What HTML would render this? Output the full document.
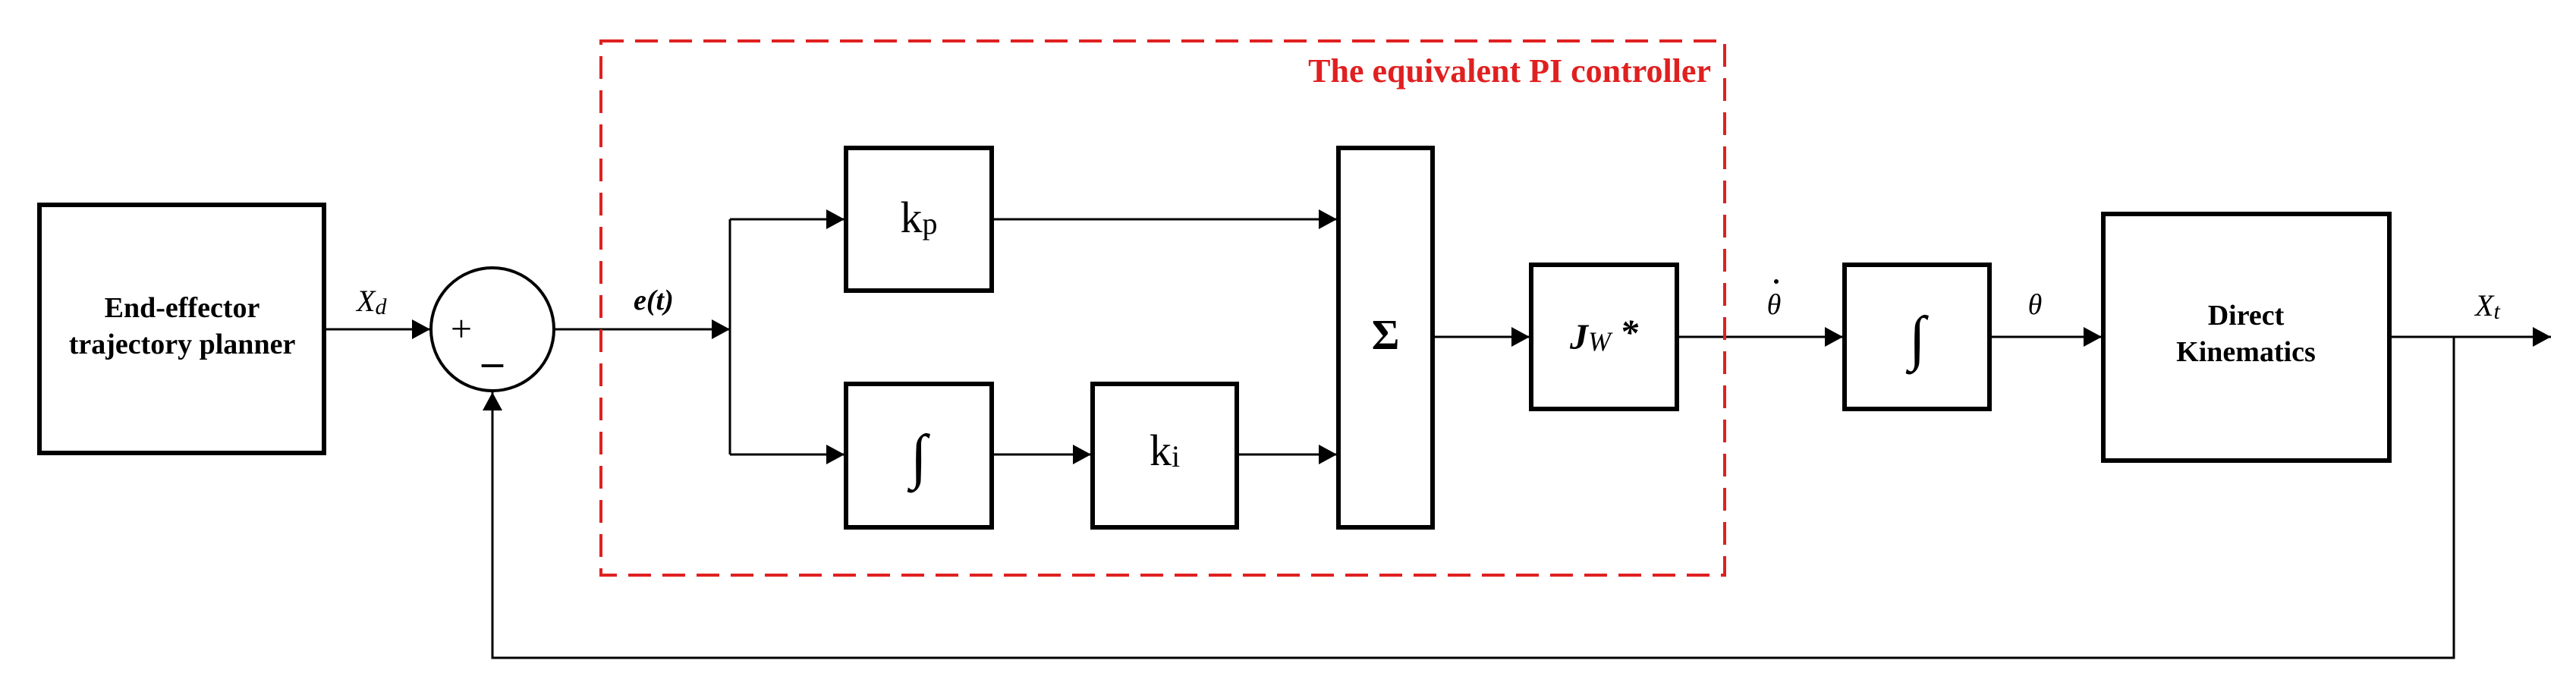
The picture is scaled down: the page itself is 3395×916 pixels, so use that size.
<!DOCTYPE html>
<html><head><meta charset="utf-8"><style>
html,body{margin:0;padding:0;background:#fff;}
svg{display:block;}
text{font-family:"Liberation Serif",serif;}
</style></head><body>
<svg width="3395" height="916" viewBox="0 0 3395 916" xmlns="http://www.w3.org/2000/svg">
<defs>
<marker id="ar" markerWidth="24" markerHeight="26" refX="24" refY="13" orient="auto" markerUnits="userSpaceOnUse">
<path d="M0,0 L24,13 L0,26 Z" fill="#000"/>
</marker>
</defs>
<g fill="none" stroke="#000" stroke-width="6">
<rect x="52" y="270" width="375" height="327"/>
<rect x="1115" y="195" width="192" height="188"/>
<rect x="1115" y="506" width="192" height="189"/>
<rect x="1440" y="506" width="190" height="189"/>
<rect x="1764" y="195" width="124" height="500"/>
<rect x="2018" y="349" width="192" height="190"/>
<rect x="2431" y="349" width="191" height="190"/>
<rect x="2772" y="282" width="377" height="325"/>
<circle cx="649" cy="434" r="81" stroke-width="4"/>
</g>
<g fill="none" stroke="#000" stroke-width="3">
<line x1="427" y1="434" x2="567" y2="434" marker-end="url(#ar)"/>
<line x1="730" y1="434" x2="962" y2="434" marker-end="url(#ar)"/>
<polyline points="962,289 962,599"/>
<line x1="962" y1="289" x2="1113" y2="289" marker-end="url(#ar)"/>
<line x1="962" y1="599" x2="1113" y2="599" marker-end="url(#ar)"/>
<line x1="1307" y1="289" x2="1762" y2="289" marker-end="url(#ar)"/>
<line x1="1307" y1="599" x2="1438" y2="599" marker-end="url(#ar)"/>
<line x1="1630" y1="599" x2="1762" y2="599" marker-end="url(#ar)"/>
<line x1="1888" y1="444" x2="2016" y2="444" marker-end="url(#ar)"/>
<line x1="2210" y1="444" x2="2429" y2="444" marker-end="url(#ar)"/>
<line x1="2622" y1="444" x2="2770" y2="444" marker-end="url(#ar)"/>
<line x1="3149" y1="444" x2="3362" y2="444" marker-end="url(#ar)"/>
<polyline points="3234,444 3234,867 649,867 649,517" marker-end="url(#ar)"/>
</g>
<rect x="792" y="54" width="1481" height="704" fill="none" stroke="#e02020" stroke-width="4" stroke-dasharray="30,15"/>
<text x="2255" y="108" text-anchor="end" font-size="44" font-weight="bold" fill="#e02020">The equivalent PI controller</text>
<text x="240" y="418" text-anchor="middle" font-size="38" font-weight="bold">End-effector</text>
<text x="240" y="466" text-anchor="middle" font-size="38" font-weight="bold">trajectory planner</text>
<text x="470" y="410" font-size="40" font-style="italic">X<tspan font-size="30" dy="4">d</tspan></text>
<text x="608" y="450" text-anchor="middle" font-size="50">+</text>
<text x="649" y="495" text-anchor="middle" font-size="56" font-weight="bold">–</text>
<text x="835" y="408" font-size="38" font-style="italic" font-weight="bold">e(t)</text>
<text x="1211" y="306" text-anchor="middle" font-size="58">k<tspan font-size="40" dy="2">p</tspan></text>
<text x="1535" y="613" text-anchor="middle" font-size="58">k<tspan font-size="40" dy="2">i</tspan></text>
<text x="1211" y="628" text-anchor="middle" font-size="80" font-style="italic">∫</text>
<text x="2527" y="472" text-anchor="middle" font-size="80" font-style="italic">∫</text>
<text x="1826" y="460" text-anchor="middle" font-size="56" font-weight="bold">Σ</text>
<text x="2114" y="460" text-anchor="middle" font-size="48" font-weight="bold" font-style="italic">J<tspan font-size="36" font-weight="normal" dy="2">W</tspan><tspan dy="-8"> *</tspan></text>
<text x="2338" y="414" text-anchor="middle" font-size="38" font-style="italic">θ</text>
<circle cx="2341" cy="371" r="3" fill="#000"/>
<text x="2682" y="414" text-anchor="middle" font-size="38" font-style="italic">θ</text>
<text x="2960" y="428" text-anchor="middle" font-size="38" font-weight="bold">Direct</text>
<text x="2960" y="476" text-anchor="middle" font-size="38" font-weight="bold">Kinematics</text>
<text x="3262" y="416" font-size="40" font-style="italic">X<tspan font-size="30" dy="4">t</tspan></text>
</svg>
</body></html>
